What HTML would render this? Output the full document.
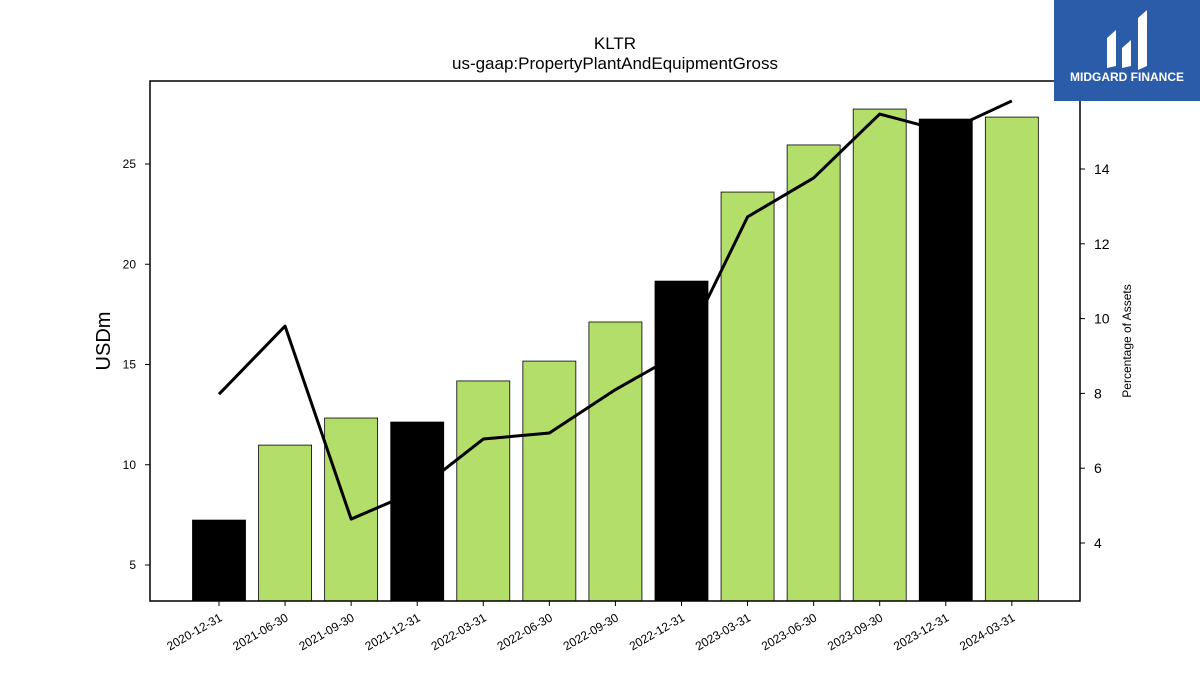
<!DOCTYPE html>
<html><head><meta charset="utf-8"><style>
body{margin:0;background:#fff;font-family:"Liberation Sans","DejaVu Sans",sans-serif;}
</style></head><body>
<svg id="chart" width="1200" height="675" xmlns="http://www.w3.org/2000/svg">
<rect width="1200" height="675" fill="#fff"/>
<text x="615" y="49" text-anchor="middle" font-size="17">KLTR</text>
<text x="615" y="69" text-anchor="middle" font-size="17">us-gaap:PropertyPlantAndEquipmentGross</text>
<g id="bars"></g>
<g id="line"></g>
<rect x="150" y="81" width="930" height="520" fill="none" stroke="#000" stroke-width="1.5"/>
<g id="axes"></g>
<text transform="translate(110,341) rotate(-90)" text-anchor="middle" font-size="20">USDm</text>
<text transform="translate(1131,341) rotate(-90)" text-anchor="middle" font-size="12">Percentage of Assets</text>
<g>
<rect x="1054" y="0" width="146" height="101" fill="#2a5caa"/>
<path d="M1107 68 L1107 38 L1116 30 L1116 66 Z M1122 68 L1122 48 L1131 40 L1131 66 Z M1138 70 L1138 18 L1147 10 L1147 66 Z" fill="#fff"/>
<text x="1127" y="81" text-anchor="middle" font-size="12" font-weight="bold" fill="#fff">MIDGARD FINANCE</text>
</g>
</svg>
<script>
const categories=["2020-12-31","2021-06-30","2021-09-30","2021-12-31","2022-03-31","2022-06-30","2022-09-30","2022-12-31","2023-03-31","2023-06-30","2023-09-30","2023-12-31","2024-03-31"];
const barValues=[7.24,10.98,12.33,12.13,14.18,15.17,17.12,19.16,23.6,25.95,27.74,27.24,27.34];
const pctValues=[7.98,9.8,4.64,5.4,6.78,6.94,8.1,9.1,12.72,13.76,15.47,15.0,15.82];
const yTicks=[5,10,15,20,25];
const y2Ticks=[4,6,8,10,12,14];
const NS="http://www.w3.org/2000/svg";
const x=i=>219+i*66.07;
const y=v=>565-(v-5)*20.05;
const y2=v=>543-(v-4)*37.4;
const bottom=601;
function mk(t,a,p){const e=document.createElementNS(NS,t);for(const k in a)e.setAttribute(k,a[k]);p.appendChild(e);return e;}
const bars=document.getElementById('bars');
barValues.forEach((v,i)=>{
 const black=categories[i].endsWith('12-31');
 const r=mk('rect',{x:x(i)-26.5,y:y(v),width:53,height:bottom-y(v),fill:black?'#000':'#b3de69',stroke:'#000','stroke-width':0.8},bars);
 
 
});
const lg=document.getElementById('line');
const pl=mk('polyline',{points:pctValues.map((v,i)=>x(i)+','+y2(v)).join(' '),fill:'none',stroke:'#000','stroke-width':3,'stroke-linejoin':'round'},lg);


const ax=document.getElementById('axes');
yTicks.forEach(t=>{
 mk('line',{x1:145,x2:150,y1:y(t),y2:y(t),stroke:'#000'},ax);
 const tx=mk('text',{x:136,y:y(t)+4,'text-anchor':'end','font-size':12},ax);tx.textContent=t;
 
 
});
y2Ticks.forEach(t=>{
 mk('line',{x1:1080,x2:1085,y1:y2(t),y2:y2(t),stroke:'#000'},ax);
 const tx=mk('text',{x:1094,y:y2(t)+5,'font-size':14},ax);tx.textContent=t;
 
 
});
categories.forEach((c,i)=>{
 mk('line',{x1:x(i),x2:x(i),y1:601,y2:606,stroke:'#000'},ax);
 const tx=mk('text',{transform:`translate(${x(i)+4},620) rotate(-30)`,'text-anchor':'end','font-size':12},ax);tx.textContent=c;
 
 
});
</script>
</body></html>
